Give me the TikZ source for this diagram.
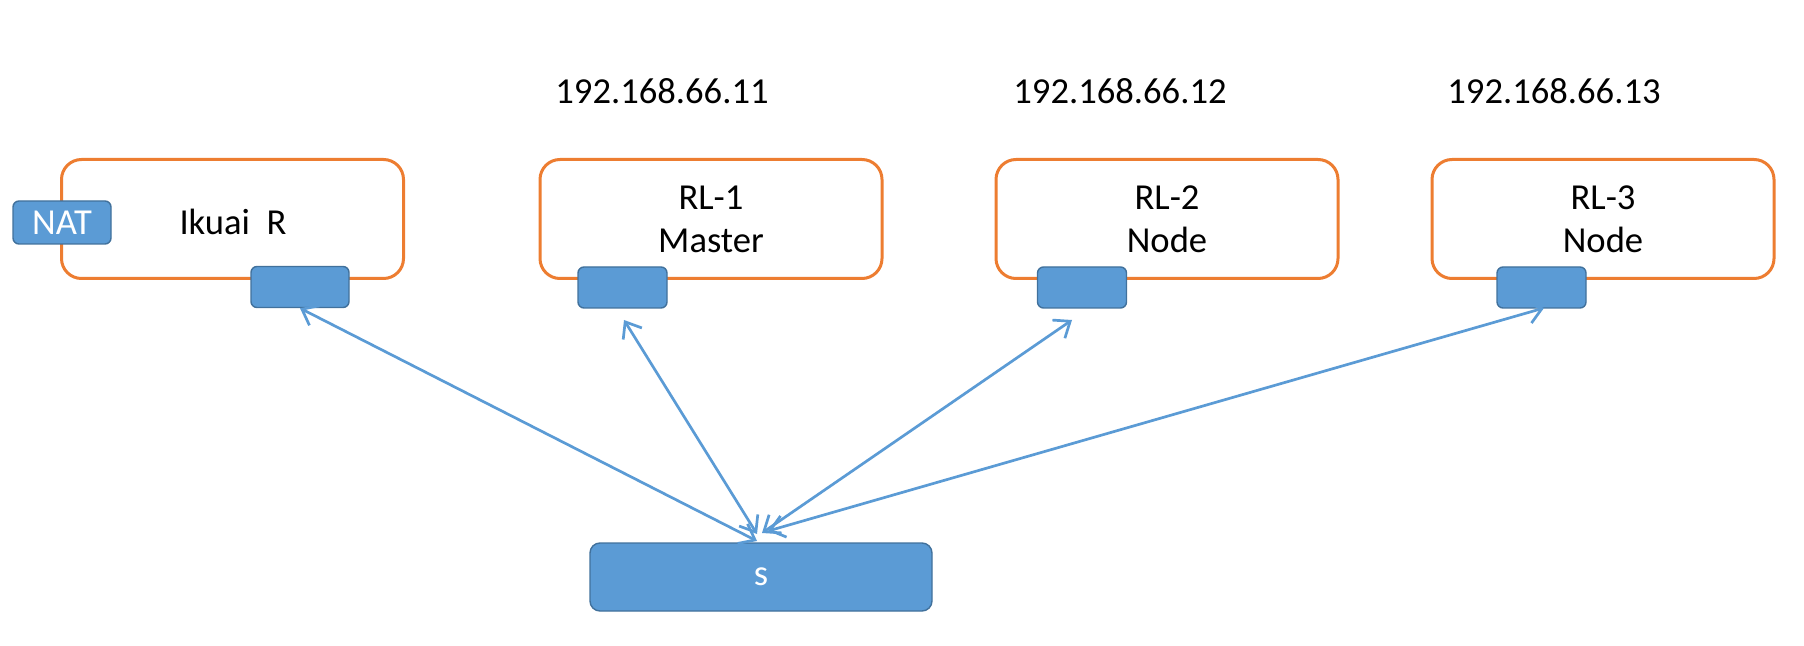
\documentclass[tikz,border=0pt]{standalone}
\usepackage{fontspec}
\setmainfont{Carlito}
\usetikzlibrary{arrows.meta}
\definecolor{boxorange}{HTML}{ED7D31}
\definecolor{portblue}{HTML}{5B9BD5}
\definecolor{portedge}{HTML}{41719C}
\begin{document}
\begin{tikzpicture}[x=0.5pt,y=-0.5pt,
	hostbox/.style={draw=boxorange, line width=1.5pt, fill=white, rounded corners=10pt,
		minimum width=171pt, minimum height=59.5pt, align=center, inner sep=0pt},
	port/.style={draw=portedge, line width=0.7pt, fill=portblue, rounded corners=3pt,
		minimum width=44.5pt, minimum height=20.5pt, inner sep=0pt, text=white},
	link/.style={draw=portblue, line width=1.35pt, {Straight Barb[length=7pt,width=11pt]}-{Straight Barb[length=7pt,width=11pt]}},
	every node/.style={font=\fontsize{18.3}{21.5}\selectfont}]
	\useasboundingbox (0,0) rectangle (1804,646);

	\node at (662,91) {192.168.66.11};
	\node at (1120,91) {192.168.66.12};
	\node at (1554,91) {192.168.66.13};

	\node[hostbox] (ikuai) at (232.5,219) {};
	\node at (233,222) {Ikuai\ \ R};
	\node[hostbox] (rl1) at (711,219) {RL-1\\Master};
	\node[hostbox] (rl2) at (1167,219) {RL-2\\Node};
	\node[hostbox] (rl3) at (1603,219) {RL-3\\Node};

	\node[port, minimum width=49pt, minimum height=21.5pt] (nat) at (62,222.5) {NAT};
	\node[port, minimum width=49pt] (p0) at (300,287) {};
	\node[port] (p1) at (622.5,287.5) {};
	\node[port] (p2) at (1082,287.5) {};
	\node[port] (p3) at (1541.5,287.5) {};

	\node[port, minimum width=171pt, minimum height=34pt, rounded corners=5pt] (s) at (761,577) {s};

	\coordinate (s0) at (757,541);
	\coordinate (s1) at (757,534);
	\coordinate (s2) at (762,533);
	\coordinate (s3) at (768,531);
	\coordinate (t1) at (624,320);
	\coordinate (t2) at (1072,320);

	\draw[link] (s0) -- (p0.south);
	\draw[link] (s1) -- (t1);
	\draw[link] (s2) -- (t2);
	\draw[link] (s3) -- (1544,308);
\end{tikzpicture}
\end{document}
